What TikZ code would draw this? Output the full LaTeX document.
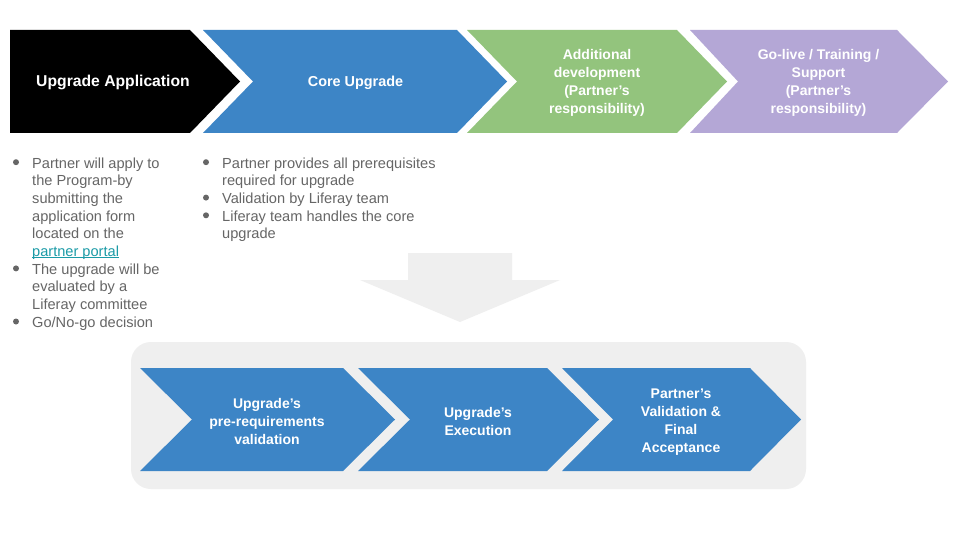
\documentclass[tikz,border=0pt]{standalone}
\usepackage{fontspec}
\setmainfont{Liberation Sans}
\definecolor{cblue}{HTML}{3D85C6}
\definecolor{cgreen}{HTML}{93C47D}
\definecolor{cpurple}{HTML}{B4A7D6}
\definecolor{cgray}{HTML}{EFEFEF}
\definecolor{ctext}{HTML}{666666}
\definecolor{clink}{HTML}{1B9BA7}
\newcommand\myulink[1]{{\color{clink}\setbox0\hbox{#1}\rlap{\rule[-1.8pt]{\wd0}{0.9pt}}\box0}}
\begin{document}
\begin{tikzpicture}[x=1pt,y=-1pt,
  title/.style={text=white,font=\fontsize{14}{18}\selectfont\bfseries,align=center,inner sep=0},
  btext/.style={text=ctext,font=\fontsize{14.6}{17.7}\selectfont,align=left,inner sep=0,anchor=west},
  dot/.style={fill=ctext}
]
\useasboundingbox[fill=white] (0,0) rectangle (960,540);
% top chevrons
\fill[black] (10,30) -- (190,30) -- (240,81.5) -- (190,133) -- (10,133) -- cycle;
\fill[cblue] (203,30) -- (457,30) -- (507,81.5) -- (457,133) -- (203,133) -- (253,81.5) -- cycle;
\fill[cgreen] (467,30) -- (677,30) -- (727,81.5) -- (677,133) -- (467,133) -- (517,81.5) -- cycle;
\fill[cpurple] (690,30) -- (897,30) -- (948,81.5) -- (897,133) -- (690,133) -- (738,81.5) -- cycle;
\node[title,font=\fontsize{15.7}{18}\selectfont\bfseries] (t1) at (113,82.5) {Upgrade Application};
\node[title,font=\fontsize{14.4}{18}\selectfont\bfseries] (t2) at (355.5,82.5) {Core Upgrade};
\node[title] (t3) at (597,83) {Additional\\development\\(Partner’s\\responsibility)};
\node[title] (t4) at (818.5,83) {Go-live / Training /\\Support\\(Partner’s\\responsibility)};
% bullet lists
\node[btext] (left) at (32,244.2) {\strut Partner will apply to\\\strut the Program-by\\\strut submitting the\\\strut application form\\\strut located on the\\\strut\myulink{partner portal}\\\strut The upgrade will be\\\strut evaluated by a\\\strut Liferay committee\\\strut Go/No-go decision};
\fill[dot] (16,162.2) circle (3);
\fill[dot] (16,268.4) circle (3);
\fill[dot] (16,321.5) circle (3);
\node[btext] (right) at (222,199.9) {\strut Partner provides all prerequisites\\\strut required for upgrade\\\strut Validation by Liferay team\\\strut Liferay team handles the core\\\strut upgrade};
\fill[dot] (206,162.2) circle (3);
\fill[dot] (206,197.6) circle (3);
\fill[dot] (206,215.3) circle (3);
% down arrow
\fill[cgray] (408,253) -- (512,253) -- (512,280) -- (560,280) -- (460,322) -- (360,280) -- (408,280) -- cycle;
% bottom panel
\fill[cgray,rounded corners=20pt] (131,342) rectangle (806,489);
\fill[cblue] (140,368) -- (343,368) -- (395,419.5) -- (343,471) -- (140,471) -- (192,419.5) -- cycle;
\fill[cblue] (358,368) -- (547,368) -- (599,419.5) -- (547,471) -- (358,471) -- (410,419.5) -- cycle;
\fill[cblue] (562,368) -- (750,368) -- (801,419.5) -- (750,471) -- (562,471) -- (613,419.5) -- cycle;
\node[title] (b1) at (267,421) {Upgrade’s\\pre-requirements\\validation};
\node[title] (b2) at (478,421) {Upgrade’s\\Execution};
\node[title] (b3) at (681,422) {Partner’s\\Validation \&\\Final\\Acceptance};
\end{tikzpicture}
\end{document}
